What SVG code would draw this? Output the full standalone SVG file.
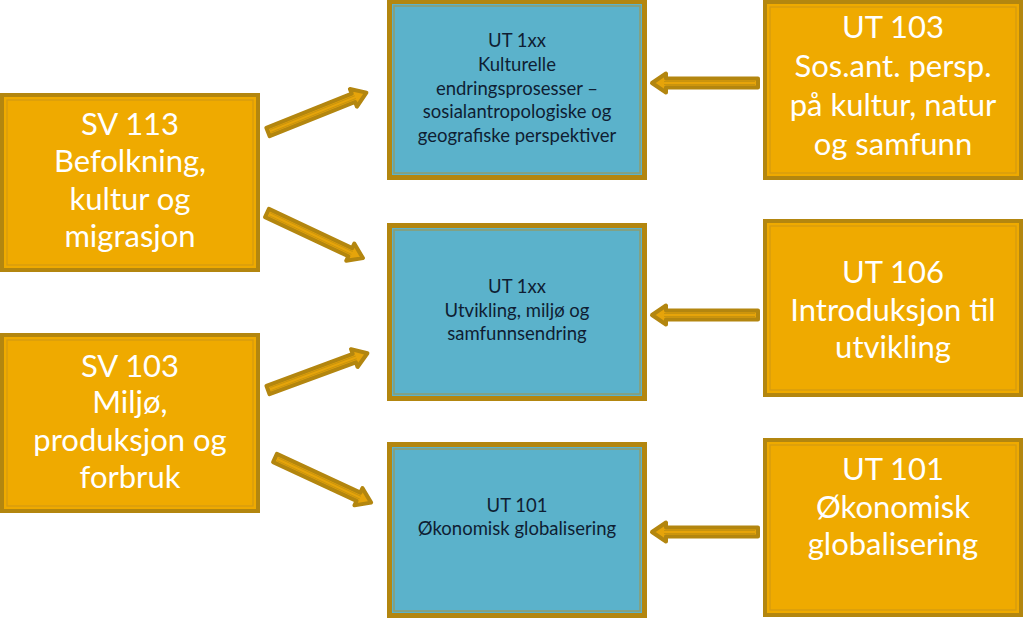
<svg xmlns="http://www.w3.org/2000/svg" xmlns:xlink="http://www.w3.org/1999/xlink" width="1024" height="621" viewBox="0 0 1024 621">
<style>
.ob{fill:#EFAA00;stroke:#B3860F;stroke-width:4}
.oi{fill:none;stroke:#D39A12;stroke-width:1.2}
.bb{fill:#5BB2CB;stroke:#B3860F;stroke-width:5}
.bi{fill:none;stroke:#8E9C6E;stroke-width:1.5}
.ot{font-family:Lato,"Open Sans","DejaVu Sans",sans-serif;font-size:31px;fill:#FFFFFF;text-anchor:middle}
.bt{font-family:Lato,"Open Sans","DejaVu Sans",sans-serif;font-size:18.5px;fill:#0F1E33;text-anchor:middle}
.ar{fill:#E6A40A;stroke:#B3860F;stroke-width:4;stroke-linejoin:round}
.ai{fill:none;stroke:#C9940E;stroke-width:1}
</style>
<defs>
<g id="arrow">
<path class="ar" d="M0,-4.5 L92,-4.5 L92,-9.5 L106,0 L92,9.5 L92,4.5 L0,4.5 Z"/>
<path class="ai" d="M3,-1.5 L94,-1.5 M3,1.5 L94,1.5"/>
</g>
</defs>
<rect width="1024" height="621" fill="#FFFFFF"/>

<g id="sv113">
<rect class="ob" x="2" y="95" width="256" height="175"/>
<rect class="oi" x="7" y="100" width="246" height="165"/>
<text class="ot" x="130" y="135">SV 113</text>
<text class="ot" x="130" y="172">Befolkning,</text>
<text class="ot" x="130" y="210">kultur og</text>
<text class="ot" x="130" y="247">migrasjon</text>
</g>

<g id="sv103">
<rect class="ob" x="2" y="335" width="256" height="176"/>
<rect class="oi" x="7" y="340" width="246" height="166"/>
<text class="ot" x="130" y="377">SV 103</text>
<text class="ot" x="130" y="413">Miljø,</text>
<text class="ot" x="130" y="451">produksjon og</text>
<text class="ot" x="130" y="488">forbruk</text>
</g>

<g id="ut1xx-kultur">
<rect class="bb" x="389.5" y="1.5" width="255" height="176"/>
<rect class="bi" x="394" y="6" width="246" height="167"/>
<text class="bt" x="517" y="47">UT 1xx</text>
<text class="bt" x="517" y="71">Kulturelle</text>
<text class="bt" x="517" y="95">endringsprosesser –</text>
<text class="bt" x="517" y="118">sosialantropologiske og</text>
<text class="bt" x="517" y="142">geografiske perspektiver</text>
</g>

<g id="ut1xx-utvikling">
<rect class="bb" x="389.5" y="225.5" width="255" height="173"/>
<rect class="bi" x="394" y="230" width="246" height="164"/>
<text class="bt" x="517" y="293">UT 1xx</text>
<text class="bt" x="517" y="317">Utvikling, miljø og</text>
<text class="bt" x="517" y="340">samfunnsendring</text>
</g>

<g id="ut101-blue">
<rect class="bb" x="389.5" y="444.5" width="255" height="171"/>
<rect class="bi" x="394" y="449" width="246" height="162"/>
<text class="bt" x="517" y="512">UT 101</text>
<text class="bt" x="517" y="535">Økonomisk globalisering</text>
</g>

<g id="ut103">
<rect class="ob" x="765" y="2" width="256" height="176"/>
<rect class="oi" x="770" y="7" width="246" height="166"/>
<text class="ot" x="893" y="38">UT 103</text>
<text class="ot" x="893" y="77">Sos.ant. persp.</text>
<text class="ot" x="893" y="116">på kultur, natur</text>
<text class="ot" x="893" y="155">og samfunn</text>
</g>

<g id="ut106">
<rect class="ob" x="765" y="221" width="256" height="174"/>
<rect class="oi" x="770" y="226" width="246" height="164"/>
<text class="ot" x="893" y="283">UT 106</text>
<text class="ot" x="893" y="321">Introduksjon til</text>
<text class="ot" x="893" y="358">utvikling</text>
</g>

<g id="ut101-orange">
<rect class="ob" x="765" y="440" width="256" height="175"/>
<rect class="oi" x="770" y="445" width="246" height="165"/>
<text class="ot" x="893" y="480">UT 101</text>
<text class="ot" x="893" y="518">Økonomisk</text>
<text class="ot" x="893" y="555">globalisering</text>
</g>

<g id="connectors">
<use xlink:href="#arrow" transform="translate(268,132) rotate(-21.8)"/>
<use xlink:href="#arrow" transform="translate(267,213) rotate(25.2)"/>
<use xlink:href="#arrow" transform="translate(268,390) rotate(-20.3)"/>
<use xlink:href="#arrow" transform="translate(275,458) rotate(24.9)"/>
<use xlink:href="#arrow" transform="translate(758,83) rotate(180)"/>
<use xlink:href="#arrow" transform="translate(758,315) rotate(180)"/>
<use xlink:href="#arrow" transform="translate(758,532) rotate(180)"/>
</g>
</svg>
